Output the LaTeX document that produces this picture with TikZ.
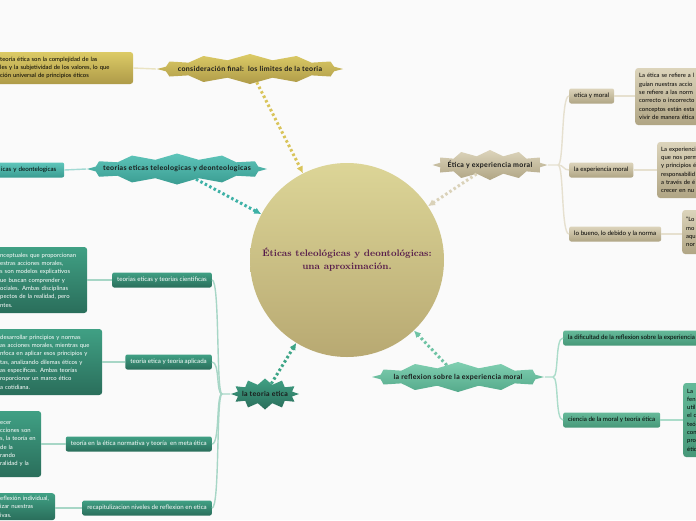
\documentclass[tikz,border=0pt]{standalone}
\usepackage{fontspec}
\usepackage{xcolor}
\usepackage{tikz}
\usetikzlibrary{arrows.meta}
\usetikzlibrary{calc}
\usetikzlibrary{positioning}
\usetikzlibrary{shapes.symbols}

\newfontfamily\mapfont{Lato}
\newfontfamily\burstfont{Lato}[LetterSpace=5]

\definecolor{paper}{HTML}{FAFAFA}
\definecolor{coreTop}{HTML}{DCD597}
\definecolor{coreBot}{HTML}{B8A972}
\definecolor{titleInk}{HTML}{561A4A}
\definecolor{goldTop}{HTML}{DCCB66}
\definecolor{goldBot}{HTML}{AE9A48}
\definecolor{goldLine}{HTML}{EAE3C2}
\definecolor{goldDot}{HTML}{D9C45A}
\definecolor{tealTop}{HTML}{5EC5BA}
\definecolor{tealBot}{HTML}{3A9C91}
\definecolor{tealLine}{HTML}{A3DAD4}
\definecolor{tealDot}{HTML}{3DB1A6}
\definecolor{tanTop}{HTML}{DCD4BB}
\definecolor{tanBot}{HTML}{B0A584}
\definecolor{tanLine}{HTML}{E6E0CF}
\definecolor{tanDot}{HTML}{DAD2B9}
\definecolor{mintTop}{HTML}{80CFB1}
\definecolor{mintBot}{HTML}{55AA8B}
\definecolor{leafTop}{HTML}{65B999}
\definecolor{leafBot}{HTML}{479879}
\definecolor{mintLine}{HTML}{ABDCCA}
\definecolor{mintDot}{HTML}{6EC3A4}
\definecolor{pineTop}{HTML}{40A084}
\definecolor{pineBot}{HTML}{2A6E5B}
\definecolor{pineLine}{HTML}{A7D6C6}
\definecolor{pineDot}{HTML}{3DA587}

\begin{document}
\begin{tikzpicture}[
    x=1pt, y=-1pt,
    >={Latex[length=7pt, width=7pt]},
    burst/.style={starburst, starburst points=12, starburst point height=6pt,
      random starburst=0, inner sep=0pt, text=black!90,
      font=\burstfont\fontsize{7}{8}\selectfont\bfseries},
    topic/.style={rounded corners=2pt, minimum height=15pt, inner xsep=5pt,
      font=\mapfont\fontsize{6.2}{7}\selectfont},
    note/.style={rounded corners=3pt, inner xsep=4pt, inner ysep=3pt,
      align=left, font=\mapfont\fontsize{5.9}{8.3}\selectfont},
    link/.style={line width=1.4pt},
    hint/.style={->, line width=3pt, dash pattern=on 2.5pt off 2.5pt},
  ]

    \useasboundingbox (0,0) rectangle (696,520);
    \clip (0,0) rectangle (696,520);
    \fill [paper] (0,0) rectangle (696,520);

    % centre
    \node [circle, minimum size=194pt, inner sep=0pt, top color=coreTop,
      bottom color=coreBot, text=titleInk, align=center,
      font=\fontsize{9.4}{13}\selectfont\bfseries] (core) at (347,260)
      {Éticas teleológicas y deontológicas:\\ una aproximación.};

    % main topics
    \node [burst, minimum width=186pt, minimum height=30pt,
      top color=goldTop, bottom color=goldBot] (final) at (250,69)
      {\makebox[0pt]{consideración final:\ \ los limites de la teoria}};
    \node [burst, minimum width=180pt, minimum height=31pt,
      top color=tealTop, bottom color=tealBot] (teleo) at (177,169)
      {\makebox[0pt]{teorias eticas teleologicas y deonteologicas}};
    \node [burst, minimum width=115pt, minimum height=30pt,
      top color=tanTop, bottom color=tanBot] (expmoral) at (490,165)
      {\makebox[0pt]{Ética y experiencia moral}};
    \node [burst, minimum width=172pt, minimum height=30pt,
      top color=mintTop, bottom color=mintBot] (reflex) at (458,377)
      {\makebox[0pt]{la reflexion sobre la experiencia moral}};
    \node [burst, minimum width=68pt, minimum height=31pt,
      top color=pineTop, bottom color=pineBot] (teoetica) at (265,394)
      {\makebox[0pt]{la teoria etica}};

    % subtopics
    \node [topic, anchor=west, top color=tanTop, bottom color=tanBot]
      (etmoral) at (569,96) {etica y moral};
    \node [topic, anchor=west, top color=tanTop, bottom color=tanBot]
      (expmor) at (569,170) {la experiencia moral};
    \node [topic, anchor=west, top color=tanTop, bottom color=tanBot]
      (bueno) at (569,234) {lo bueno, lo debido y la norma};
    \node [topic, anchor=west, top color=leafTop, bottom color=leafBot]
      (dificul) at (563,338) {la dificultad de la reflexion sobre la experiencia};
    \node [topic, anchor=west, top color=leafTop, bottom color=leafBot]
      (ciencia) at (563,420) {ciencia de la moral y teoría ética};
    \node [topic, anchor=east, top color=pineTop, bottom color=pineBot,
      text=white] (cientif) at (212,280) {teorias eticas y teorias cientificas};
    \node [topic, anchor=east, top color=pineTop, bottom color=pineBot,
      text=white] (aplic) at (212,362) {teoria etica y teoria aplicada};
    \node [topic, anchor=east, top color=pineTop, bottom color=pineBot,
      text=white] (metaet) at (212,444)
      {teoría en la ética normativa y teoría\ \ en meta ética};
    \node [topic, anchor=east, top color=pineTop, bottom color=pineBot,
      text=white] (recap) at (212,508)
      {recapitulizacion niveles de reflexion en etica};
    \node [topic, anchor=west, text width=58pt, align=left, top color=tealTop,
      bottom color=tealBot] (deont) at (-4,170) {icas~y~deontelogicas};

    % notes
    \node [note, anchor=west, text width=129pt, minimum height=32pt,
      top color=goldTop, bottom color=goldBot] (limnote) at (-4,68)
      {teoría ética son la complejidad de las\\
       les y la subjetividad de los valores, lo que\\
       ción universal de principios éticos};
    \node [note, anchor=west, text width=100pt, minimum height=57pt,
      top color=tanTop, bottom color=tanBot] (etnote) at (635,96.5)
      {La ética se refiere a l\\ guían nuestras accio\\ se refiere a las norm\\
       correcto o incorrecto\\ conceptos están esta\\ vivir de manera ética};
    \node [note, anchor=west, text width=100pt, minimum height=56pt,
      top color=tanTop, bottom color=tanBot] (expnote) at (657,170)
      {La experiencia\\ que nos perm\\ y principios é\\ responsabilid\\
       a través de é\\ crecer en nu};
    \node [note, anchor=west, text width=100pt, minimum height=44pt,
      top color=tanTop, bottom color=tanBot] (buenote) at (682,232)
      {“Lo\\ mo\\ aqu\\ nor};
    \node [note, anchor=west, text width=100pt, minimum height=74pt,
      top color=leafTop, bottom color=leafBot] (cienote) at (683,420)
      {La\\ fen\\ util\\ el c\\ teó\\ con\\ pro\\ étic};
    \node [note, anchor=west, text width=83pt, minimum height=66pt,
      top color=pineTop, bottom color=pineBot, text=white] (cientnote) at (-4,280)
      {nceptuales que proporcionan\\ estras acciones morales,\\
       s son modelos explicativos\\ ue buscan comprender y\\
       ociales. Ambas disciplinas\\ pectos de la realidad, pero\\ ntes.};
    \node [note, anchor=west, text width=98pt, minimum height=66pt,
      top color=pineTop, bottom color=pineBot, text=white] (aplnote) at (-4,362)
      {desarrollar principios y normas\\ as~acciones~morales,~mientras~que\\
       nfoca en aplicar esos principios y\\ tas, analizando dilemas éticos y\\
       as específicas. Ambas teorías\\ roporcionar un marco ético\\
       a cotidiana.};
    \node [note, anchor=west, text width=37pt, minimum height=66pt,
      top color=pineTop, bottom color=pineBot, text=white] (metanote) at (-4,444)
      {ecer\\ cciones~son\\ s,~la~teoría~en\\ de la\\ rando\\ ralidad~y~la};
    \node [note, anchor=north west, text width=51pt,
      top color=pineTop, bottom color=pineBot, text=white] (recnote) at (-4,493)
      {eflexión~individual,\\ izar nuestras\\ ivas.};

    % junctions
    \coordinate (jexp) at (558,165);
    \coordinate (jref) at (553,377);
    \coordinate (jteo) at (222,394);

    % links
    \draw [link, goldLine] (limnote.east) -- (final.west);
    \draw [link, tealLine] (deont.east) -- (teleo.west);

    \draw [link, tanLine] (expmoral.east) -- (jexp)
      .. controls +(6,0) and +(-8,0) .. (etmoral.west);
    \draw [link, tanLine] (jexp)
      .. controls +(6,0) and +(-6,0) .. (expmor.west);
    \draw [link, tanLine] (jexp)
      .. controls +(6,0) and +(-8,0) .. (bueno.west);
    \draw [link, tanLine] (etmoral.east) -- (etnote.west |- etmoral.east);
    \draw [link, tanLine] (expmor.east) -- (expnote.west |- expmor.east);
    \draw [link, tanLine] (bueno.east) -- (buenote.west |- bueno.east);

    \draw [link, mintLine] (reflex.east) -- (jref)
      .. controls +(6,0) and +(-8,0) .. (dificul.west);
    \draw [link, mintLine] (jref)
      .. controls +(6,0) and +(-8,0) .. (ciencia.west);
    \draw [link, mintLine] (ciencia.east) -- (cienote.west |- ciencia.east);

    \draw [link, pineLine] (teoetica.west) -- (jteo)
      .. controls +(-6,0) and +(8,0) .. (cientif.east);
    \draw [link, pineLine] (jteo)
      .. controls +(-6,0) and +(8,0) .. (aplic.east);
    \draw [link, pineLine] (jteo)
      .. controls +(-6,0) and +(8,0) .. (metaet.east);
    \draw [link, pineLine] (jteo)
      .. controls +(-6,0) and +(8,0) .. (recap.east);
    \draw [link, pineLine] (cientnote.east |- cientif.west) -- (cientif.west);
    \draw [link, pineLine] (aplnote.east |- aplic.west) -- (aplic.west);
    \draw [link, pineLine] (metanote.east |- metaet.west) -- (metaet.west);
    \draw [link, pineLine] (recnote.east |- recap.west) -- (recap.west);

    % pointers to the centre
    \draw [hint, goldDot] (final) -- (core);
    \draw [hint, tealDot] (teleo) -- (core);
    \draw [hint, tanDot] (expmoral) -- (core);
    \draw [hint, mintDot] (reflex) -- (core);
    \draw [hint, pineDot] (teoetica) -- (core);

  \end{tikzpicture}
\end{document}
